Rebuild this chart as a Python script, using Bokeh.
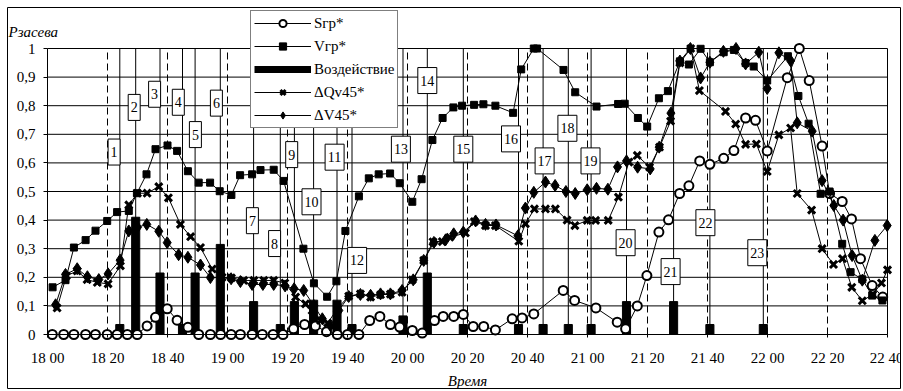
from bokeh.plotting import figure
from bokeh.models import Legend, LegendItem, FixedTicker, Label, Range1d, ColumnDataSource
from bokeh.embed import file_html
from bokeh.resources import INLINE
from bokeh.core.properties import value

FONT = "Liberation Serif"

# ---------------- data (time = minutes after 18:00) ----------------
x_ticks = [0, 20, 40, 60, 80, 100, 120, 140, 160, 180, 200, 220, 240, 260, 280]
x_labels = ["18 00", "18 20", "18 40", "19 00", "19 20", "19 40", "20 00", "20 20",
            "20 40", "21 00", "21 20", "21 40", "22 00", "22 20", "22 40"]
y_ticks = [0, 0.1, 0.2, 0.3, 0.4, 0.5, 0.6, 0.7, 0.8, 0.9, 1.0]
y_labels = ["0", "0,1", "0,2", "0,3", "0,4", "0,5", "0,6", "0,7", "0,8", "0,9", "1"]

# S_gr*
s_t = [1.6, 5.4, 8.8, 12.7, 16.0, 19.9, 23.2, 26.6, 29.9, 33.2, 36.0, 39.9, 43.2, 46.8,
       50.4, 54.3, 57.7, 61.2, 64.3, 68.2, 71.6, 75.2, 78.5, 82.0, 85.7, 89.3, 93.0,
       96.6, 100.0, 103.8, 107.4, 110.8, 114.3, 117.4, 121.6, 124.9, 129.0, 131.9, 135.4,
       138.6, 141.9, 145.4, 149.3, 154.9, 158.2, 162.1, 171.9, 175.7, 182.8, 189.9, 192.7,
       196.6, 199.8, 203.8, 207.0, 210.7, 213.8, 217.4, 220.8, 225.4, 228.8, 232.7, 236.0,
       239.9, 246.6, 250.6, 253.9, 258.2, 260.7, 264.9, 268.0, 271.0, 274.9, 278.4]
s_v = [0, 0, 0, 0, 0, 0, 0, 0, 0, 0.03, 0.06, 0.09, 0.05, 0.025,
       0, 0, 0, 0, 0, 0, 0, 0, 0, 0.02, 0.035, 0.03, 0.01,
       0, 0, 0, 0.049, 0.063, 0.035, 0.026, 0.014, 0.005, 0.049, 0.063, 0.063,
       0.07, 0.028, 0.028, 0.016, 0.055, 0.058, 0.072, 0.154, 0.119, 0.093, 0.043, 0.02,
       0.1, 0.206, 0.358, 0.401, 0.493, 0.52, 0.607, 0.595, 0.616, 0.643, 0.757, 0.749,
       0.642, 0.898, 1.0, 0.888, 0.659, 0.493, 0.465, 0.404, 0.265, 0.171, 0.131]

# V_gr*
v_t = [1.7, 6.0, 8.8, 12.7, 16.0, 19.9, 23.2, 27.1, 29.8, 33.0, 36.0, 40.0, 43.2, 46.8,
       50.4, 54.2, 57.4, 61.3, 64.2, 68.2, 71.0, 75.4, 78.7, 85.3, 88.8, 93.2, 96.3, 99.3,
       103.8, 107.1, 110.4, 114.2, 117.4, 121.6, 124.7, 128.3, 131.7, 135.3, 138.2, 142.2,
       145.3, 149.3, 155.2, 157.9, 162.1, 163.2, 172.0, 175.9, 183.0, 190.2, 192.4, 196.8,
       199.9, 203.8, 206.8, 210.8, 213.8, 217.7, 220.8, 225.4, 228.8, 232.7, 235.4, 239.9,
       246.8, 250.3, 253.7, 257.7, 260.7, 264.9, 267.7, 271.6, 274.9, 278.3]
v_v = [0.165, 0.19, 0.304, 0.33, 0.363, 0.397, 0.428, 0.432, 0.494, 0.56, 0.648, 0.661, 0.642, 0.571,
       0.531, 0.531, 0.501, 0.488, 0.557, 0.56, 0.575, 0.576, 0.537, 0.3, 0.179, 0.132, 0.186, 0.362,
       0.483, 0.546, 0.56, 0.563, 0.529, 0.464, 0.543, 0.68, 0.757, 0.794, 0.8, 0.803,
       0.805, 0.8, 0.775, 0.927, 1.0, 1.0, 0.925, 0.847, 0.797, 0.806, 0.807, 0.757,
       0.727, 0.826, 0.851, 0.955, 0.944, 0.999, 0.952, 0.987, 0.995, 0.949, 0.937, 0.888,
       0.973, 0.834, 0.737, 0.492, 0.5, 0.317, 0.218, 0.193, 0.136, 0.119]

# dQv45*
q_t = [3.2, 6.3, 9.9, 13.2, 16.6, 20.2, 24.3, 27.1, 30.0, 33.2, 37.1, 40.3, 44.3, 47.7, 51.0,
       54.9, 58.2, 61.3, 65.4, 68.8, 72.1, 75.4, 79.1, 82.7, 86.0, 88.2, 91.0, 93.4, 96.6,
       100.4, 104.3, 107.7, 111.0, 114.3, 118.2, 121.6, 125.4, 128.5, 131.6, 134.1, 139.3,
       142.3, 146.0, 149.3, 157.1, 159.3, 162.3, 166.0, 169.3, 173.2, 175.8, 179.9, 182.7,
       186.9, 190.3, 193.8, 196.6, 200.7, 204.0, 207.7, 210.8, 214.4, 217.3, 226.0, 229.4,
       232.7, 236.3, 239.9, 243.8, 247.7, 249.9, 254.7, 258.2, 262.0, 265.0, 268.1, 271.6,
       275.1, 278.0, 280.0]
q_v = [0.093, 0.205, 0.222, 0.192, 0.182, 0.177, 0.24, 0.453, 0.494, 0.494, 0.517, 0.478, 0.385, 0.342, 0.304,
       0.229, 0.2, 0.198, 0.189, 0.189, 0.189, 0.189, 0.18, 0.131, 0.107, 0.084, 0.049, 0.04, 0.09,
       0.134, 0.142, 0.131, 0.139, 0.141, 0.148, 0.191, 0.259, 0.324, 0.325, 0.34, 0.355,
       0.395, 0.381, 0.381, 0.326, 0.387, 0.439, 0.439, 0.439, 0.4, 0.381, 0.399, 0.399,
       0.399, 0.48, 0.603, 0.626, 0.585, 0.655, 0.746, 0.95, 1.0, 0.853, 0.78, 0.736,
       0.665, 0.666, 0.57, 0.698, 0.722, 0.493, 0.435, 0.3, 0.245, 0.265, 0.165, 0.118,
       0.14, 0.18, 0.226]

# dV45*
d_t = [2.7, 6.0, 9.9, 13.3, 17.1, 20.2, 24.2, 27.1, 30.0, 33.1, 37.1, 39.9, 43.7, 46.8, 51.0,
       54.3, 57.7, 61.2, 64.3, 68.2, 71.8, 75.4, 79.2, 82.2, 85.4, 88.8, 91.6, 94.3, 97.1,
       100.4, 104.3, 107.7, 111.0, 114.3, 118.2, 121.9, 125.4, 128.8, 132.7, 135.4, 138.6,
       142.7, 146.0, 149.5, 156.8, 159.3, 162.1, 166.0, 169.2, 172.8, 175.9, 179.9, 183.0,
       186.8, 190.0, 193.0, 196.7, 200.9, 203.9, 207.8, 210.8, 214.3, 217.7, 220.8, 225.3,
       229.5, 232.7, 237.1, 239.9, 243.8, 247.7, 249.9, 254.9, 258.2, 262.1, 265.2, 268.2,
       271.6, 275.8, 279.9]
d_v = [0.104, 0.21, 0.23, 0.202, 0.192, 0.212, 0.26, 0.362, 0.375, 0.385, 0.361, 0.321, 0.279, 0.27, 0.243,
       0.199, 0.199, 0.195, 0.185, 0.175, 0.175, 0.175, 0.17, 0.16, 0.154, 0.101, 0.055, 0.031, 0.084,
       0.133, 0.14, 0.137, 0.142, 0.142, 0.154, 0.191, 0.259, 0.322, 0.331, 0.352, 0.358,
       0.397, 0.385, 0.383, 0.345, 0.442, 0.497, 0.533, 0.521, 0.5, 0.493, 0.506, 0.511,
       0.508, 0.586, 0.607, 0.585, 0.579, 0.655, 0.774, 0.956, 1.0, 0.897, 0.952, 0.99,
       1.0, 0.946, 0.987, 0.86, 0.985, 0.957, 0.74, 0.711, 0.538, 0.451, 0.4, 0.276,
       0.19, 0.329, 0.381]

# Воздействие (events)
ev_num = list(range(1, 24))
ev_t = [24.1, 29.4, 37.5, 45.0, 49.2, 57.6, 68.7, 77.6, 82.3, 88.7, 96.5, 101.5,
        118.5, 126.6, 138.6, 157.0, 165.2, 173.6, 181.2, 193.0, 208.7, 220.8, 238.6]
ev_v = [0.035, 0.41, 0.215, 0.035, 0.215, 0.315, 0.115, 0.035, 0.115, 0.12, 0.12, 0.035,
        0.065, 0.215, 0.035, 0.035, 0.035, 0.035, 0.035, 0.115, 0.115, 0.035, 0.035]
# callout anchors for the event numbers
lab_t = [22.2, 28.9, 35.7, 43.6, 49.3, 56.3, 68.3, 75.7, 81.4, 88.0, 95.7, 103.2,
         117.8, 126.6, 138.6, 154.5, 165.7, 173.3, 181.0, 192.7, 207.7, 219.3, 236.6]
lab_y = [0.638, 0.794, 0.840, 0.812, 0.699, 0.809, 0.398, 0.318, 0.629, 0.464, 0.62, 0.259,
         0.648, 0.888, 0.648, 0.684, 0.607, 0.721, 0.607, 0.321, 0.22, 0.391, 0.286]

# ---------------- figure ----------------
# frame = whole chart area (outer border); axes sit inside it at fixed locations
X0, X1 = -40 / 3, 853 / 3          # 7px .. 900px
Y0, Y1 = -54 / 286, 327 / 286      # 388px .. 7px
p = figure(frame_width=893, frame_height=381, x_range=Range1d(X0, X1), y_range=Range1d(Y0, Y1),
           output_backend="svg", toolbar_location=None,
           min_border_left=7, min_border_right=3, min_border_top=7, min_border_bottom=3,
           background_fill_color="white", border_fill_color="white")
p.outline_line_color = "black"
p.outline_line_width = 1
p.xgrid.visible = False
p.ygrid.visible = False

xa, ya = p.xaxis[0], p.yaxis[0]
xa.fixed_location = 0
ya.fixed_location = 0
xa.bounds = (0, 280)
ya.bounds = (0, 1)
xa.ticker = FixedTicker(ticks=x_ticks)
xa.major_label_overrides = dict(zip(x_ticks, x_labels))
ya.ticker = FixedTicker(ticks=y_ticks)
ya.major_label_overrides = dict(zip(y_ticks, y_labels))
for ax in (xa, ya):
    ax.axis_line_color = "black"
    ax.major_tick_line_color = "black"
    ax.minor_tick_line_color = None
    ax.major_label_text_font = FONT
    ax.major_label_text_font_size = "15px"
    ax.major_label_text_color = "black"
xa.major_tick_out = 3
xa.major_tick_in = 0
xa.major_label_standoff = 12
ya.major_tick_out = 4
ya.major_tick_in = 0
ya.major_label_standoff = 8
xa.axis_label = "Время"
xa.axis_label_text_font = FONT
xa.axis_label_text_font_style = "italic"
xa.axis_label_text_font_size = "15px"
xa.axis_label_text_color = "black"
xa.axis_label_standoff = 4

# grid: solid horizontals, dashed verticals every 20 min, right border of plot area
p.segment(x0=0, y0=y_ticks, x1=280, y1=y_ticks, line_color="black", line_width=1)
p.segment(x0=x_ticks[1:-1], y0=0, x1=x_ticks[1:-1], y1=1, line_color="black", line_width=1,
          line_dash="7 4")
p.segment(x0=280, y0=0, x1=280, y1=1, line_color="black", line_width=1)

# event lines and bars
p.segment(x0=ev_t, y0=0, x1=ev_t, y1=1, line_color="black", line_width=1)
p.vbar(x=ev_t, top=ev_v, bottom=0, width=2.7, fill_color="black", line_color="black")

# series
s_line = p.line(s_t, s_v, line_color="black", line_width=1)
s_mk = p.scatter(s_t, s_v, marker="circle", size=9, fill_color="white", line_color="black", line_width=2)
v_line = p.line(v_t, v_v, line_color="black", line_width=1)
v_mk = p.scatter(v_t, v_v, marker="square", size=7, fill_color="black", line_color="black")
q_line = p.line(q_t, q_v, line_color="black", line_width=1)
q_mk = p.scatter(q_t, q_v, marker="x", size=10, line_color="black", line_width=3)
d_line = p.line(d_t, d_v, line_color="black", line_width=1)
d_mk = p.scatter(d_t, d_v, marker="diamond", size=12, fill_color="black", line_color="black")
# legend key for the bars: a thick stroke placed outside the visible ranges
bar_key = p.line(x=[-500, -400], y=[-5, -5], line_color="black", line_width=7)

# numbered callouts
src = ColumnDataSource(dict(x=lab_t, y=lab_y, txt=[str(n) for n in ev_num],
                            w=[12 if n < 10 else 19 for n in ev_num]))
p.rect("x", "y", width="w", height=26, width_units="screen", height_units="screen",
       source=src, fill_color="white", line_color="black", line_width=1)
p.text("x", "y", text="txt", source=src, text_align="center", text_baseline="middle",
       text_font=value(FONT), text_font_size="14px", text_color="black")

legend = Legend(items=[
    LegendItem(label="Sгр*", renderers=[s_line, s_mk]),
    LegendItem(label="Vгр*", renderers=[v_line, v_mk]),
    LegendItem(label="Воздействие", renderers=[bar_key]),
    LegendItem(label="ΔQv45*", renderers=[q_line, q_mk]),
    LegendItem(label="ΔV45*", renderers=[d_line, d_mk]),
], location=(243, 260))
legend.label_text_font = FONT
legend.label_text_font_size = "15px"
legend.label_text_color = "black"
legend.glyph_width = 57
legend.glyph_height = 18
legend.label_height = 18
legend.spacing = 5
legend.padding = 3
legend.margin = 0
legend.label_standoff = 3
legend.border_line_color = "black"
legend.border_line_width = 1
legend.background_fill_color = "white"
legend.background_fill_alpha = 1
p.add_layout(legend, "center")

p.add_layout(Label(x=-13, y=1.056, text="Рзасева", text_font=FONT, text_font_style="italic",
                   text_font_size="15px", text_baseline="middle", text_align="left",
                   text_color="black"))

open("out.html", "w").write(file_html(p, INLINE))
